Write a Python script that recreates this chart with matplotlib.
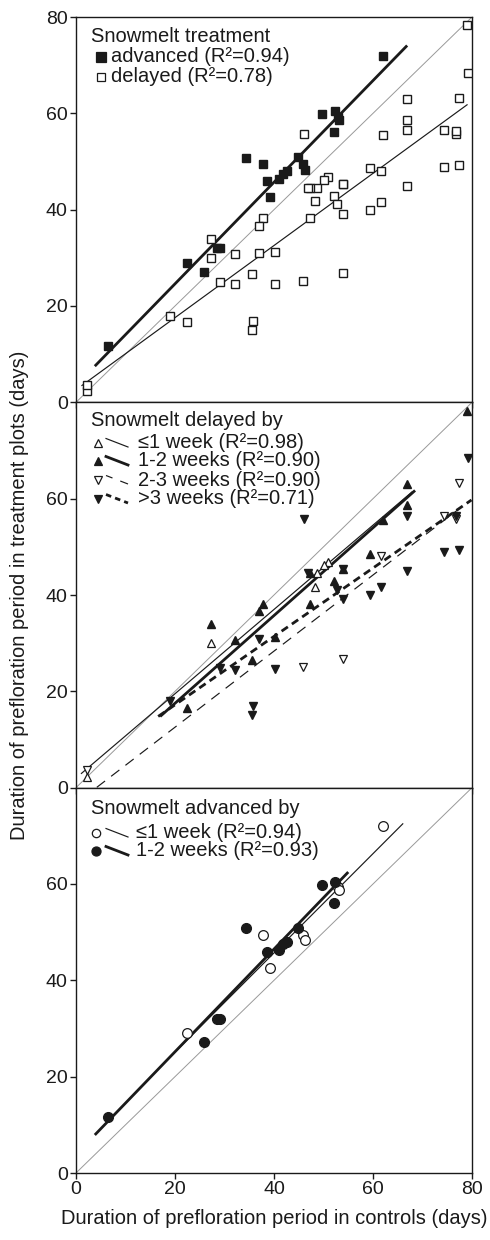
import matplotlib
matplotlib.use("Agg")
import matplotlib.pyplot as plt
import numpy as np
from matplotlib.lines import Line2D

plt.rcParams['font.family'] = ['Liberation Sans', 'DejaVu Sans']
plt.rcParams['lines.scale_dashes'] = False

# ---------------- data ----------------
# Snowmelt advanced, split by amount
adv_le1_x = [62.1, 52.9, 53.1, 37.8, 45.9, 46.3, 39.1, 22.4]
adv_le1_y = [72.0, 59.3, 58.7, 49.4, 49.4, 48.3, 42.6, 29.0]
adv_12_x = [49.6, 52.3, 52.2, 34.3, 44.9, 42.6, 41.9, 41.1, 38.6, 28.4, 29.1, 25.9, 6.4]
adv_12_y = [59.8, 60.4, 56.1, 50.8, 50.9, 48.0, 47.5, 46.3, 45.9, 32.0, 32.0, 27.1, 11.7]

# Snowmelt delayed, split by amount
del_le1_x = [51.0, 50.0, 48.6, 48.3, 27.2, 2.3]
del_le1_y = [46.8, 46.2, 44.6, 41.7, 30.0, 2.3]
del_12_x = [79.0, 66.8, 66.8, 62.1, 59.4, 53.9, 47.3, 52.2, 37.8, 37.0, 47.3, 27.2, 32.1, 40.2, 35.6, 22.5]
del_12_y = [78.3, 63.0, 58.6, 55.6, 48.6, 45.3, 44.6, 42.9, 38.2, 36.7, 38.2, 34.0, 30.7, 31.3, 26.6, 16.6]
del_23_x = [77.3, 74.3, 76.7, 61.6, 45.8, 54.0, 2.3]
del_23_y = [63.2, 56.5, 55.7, 48.0, 25.1, 26.8, 3.6]
del_3_x = [79.1, 66.9, 46.0, 76.8, 74.3, 77.3, 66.8, 53.9, 46.8, 52.7, 61.6, 59.4, 54.0, 37.0, 29.0, 32.1, 40.2, 19.0, 35.8, 35.6]
del_3_y = [68.4, 56.5, 55.8, 56.4, 48.9, 49.3, 45.0, 45.3, 44.6, 41.1, 41.6, 39.9, 39.1, 30.9, 24.9, 24.5, 24.6, 17.9, 16.9, 15.1]

# regression lines: slope, intercept, x start, x end
fit_adv = [1.055, 3.5, 3.8, 66.9]
fit_del = [0.749, 2.6, 1.1, 79.1]
fit_del_le1 = [0.875, 2.0, 1.0, 68.0]
fit_del_12 = [0.911, -0.7, 17.0, 68.5]
fit_del_23 = [0.790, -3.25, 4.2, 77.2]
fit_del_3 = [0.710, 3.0, 16.6, 79.9]
fit_adv_le1 = [1.030, 4.5, 19.0, 66.1]
fit_adv_12 = [1.066, 3.85, 3.8, 55.0]

title1 = "Snowmelt treatment"
labels1 = ["advanced (R\u00b2=0.94)", "delayed (R\u00b2=0.78)"]
title2 = "Snowmelt delayed by"
labels2 = ["\u22641 week (R\u00b2=0.98)", "1-2 weeks (R\u00b2=0.90)",
           "2-3 weeks (R\u00b2=0.90)", ">3 weeks (R\u00b2=0.71)"]
title3 = "Snowmelt advanced by"
labels3 = ["\u22641 week (R\u00b2=0.94)", "1-2 weeks (R\u00b2=0.93)"]

xticks = [0, 20, 40, 60, 80]
yticks_top = [0, 20, 40, 60, 80]
yticks_low = [0, 20, 40, 60]
xlabel = "Duration of prefloration period in controls (days)"
ylabel = "Duration of prefloration period in treatment plots (days)"

# ---------------- figure ----------------
W, H = 490, 1240
fig = plt.figure(figsize=(W / 100, H / 100), dpi=100)
left = 76 / W
width = 396 / W
top_px, bot_px = 17, 1173
ph = (bot_px - top_px) / 3
axes = []
for i in range(3):
    b = 1 - (top_px + ph * (i + 1)) / H
    ax = fig.add_axes([left, b, width, ph / H])
    axes.append(ax)

BLACK = '#1a1a1a'
FS = 14.5
THIN = 0.85
THICK = 2.0
DASH_THIN = (0, (7.5, 5.5))
DASH_THICK = (0, (5.5, 3.5))


def style(ax, yt):
    ax.set_xlim(0, 80)
    ax.set_ylim(0, 80)
    ax.set_xticks(xticks)
    ax.set_yticks(yt)
    for s in ax.spines.values():
        s.set_linewidth(1.0)
        s.set_color(BLACK)
    ax.tick_params(direction='out', length=4, width=1.0, labelsize=14,
                   color=BLACK, labelcolor=BLACK, pad=2)
    ax.plot([0, 80], [0, 80], color='#999999', lw=0.7, zorder=1)


def fitline(ax, f, **kw):
    xs = np.array([f[2], f[3]])
    ax.plot(xs, f[0] * xs + f[1], color=BLACK, zorder=2, solid_capstyle='butt', **kw)


ms = 6.3
# Panel 1
ax = axes[0]
style(ax, yticks_top)
ax.tick_params(labelbottom=False)
ax.plot(adv_le1_x + adv_12_x, adv_le1_y + adv_12_y, ls='none', marker='s', ms=ms,
        mfc=BLACK, mec=BLACK, zorder=3)
ax.plot(del_le1_x + del_12_x + del_23_x + del_3_x, del_le1_y + del_12_y + del_23_y + del_3_y,
        ls='none', marker='s', ms=ms - 0.4, mfc='white', mec=BLACK, mew=1.0, zorder=3)
fitline(ax, fit_adv, lw=THICK)
fitline(ax, fit_del, lw=THIN)

# Panel 2
ax = axes[1]
style(ax, yticks_low)
ax.tick_params(labelbottom=False)
tms = 6.3
ax.plot(del_le1_x, del_le1_y, ls='none', marker='^', ms=tms, mfc='white', mec=BLACK, mew=0.9, zorder=3)
ax.plot(del_12_x, del_12_y, ls='none', marker='^', ms=tms, mfc=BLACK, mec=BLACK, zorder=3)
ax.plot(del_23_x, del_23_y, ls='none', marker='v', ms=tms, mfc='white', mec=BLACK, mew=0.9, zorder=3)
ax.plot(del_3_x, del_3_y, ls='none', marker='v', ms=tms, mfc=BLACK, mec=BLACK, zorder=3)
fitline(ax, fit_del_le1, lw=THIN)
fitline(ax, fit_del_12, lw=THICK)
fitline(ax, fit_del_23, lw=THIN, ls=DASH_THIN)
fitline(ax, fit_del_3, lw=THICK, ls=DASH_THICK)

# Panel 3
ax = axes[2]
style(ax, yticks_low)
cms = 7
ax.plot(adv_le1_x, adv_le1_y, ls='none', marker='o', ms=cms, mfc='white', mec=BLACK, mew=0.9, zorder=3)
ax.plot(adv_12_x, adv_12_y, ls='none', marker='o', ms=cms, mfc=BLACK, mec=BLACK, zorder=3)
fitline(ax, fit_adv_le1, lw=THIN)
fitline(ax, fit_adv_12, lw=THICK)
ax.set_xlabel(xlabel, fontsize=FS, labelpad=8, color=BLACK)

fig.text(20 / W, 1 - ((top_px + bot_px) / 2) / H, ylabel, rotation=90,
         ha='center', va='center', fontsize=FS, color=BLACK)


# ---------------- manual legends ----------------
def ax_y(ax_index, py):
    t = top_px + ph * ax_index
    return 1 - (py - t) / ph


def ax_x(px):
    return (px - left * W) / (width * W)


def legend(ax_index, title, title_py, rows):
    ax = axes[ax_index]
    ax.text(ax_x(91), ax_y(ax_index, title_py), title, transform=ax.transAxes,
            ha='left', va='center', fontsize=FS, color=BLACK)
    for r in rows:
        py = r['py']
        ax.plot([ax_x(r['mx'])], [ax_y(ax_index, py)], transform=ax.transAxes, ls='none',
                marker=r['marker'], ms=r.get('ms', 6), mfc=r['mfc'], mec=BLACK,
                mew=0.9, clip_on=False)
        if 'line' in r:
            ax.add_line(Line2D([ax_x(106), ax_x(128)], [ax_y(ax_index, py - 4.5), ax_y(ax_index, py + 4)],
                               transform=ax.transAxes, color=BLACK, **r['line']))
        ax.text(ax_x(r['tx']), ax_y(ax_index, py), r['label'], transform=ax.transAxes,
                ha='left', va='center', fontsize=FS, color=BLACK)


legend(0, title1, 37, [
    dict(py=57, mx=101, marker='s', mfc=BLACK, label=labels1[0], tx=111, ms=6.5),
    dict(py=77, mx=101, marker='s', mfc='white', label=labels1[1], tx=111, ms=6),
])
legend(1, title2, 420, [
    dict(py=443, mx=98, marker='^', mfc='white', label=labels2[0], tx=138, ms=5.5,
         line=dict(lw=THIN)),
    dict(py=461, mx=98, marker='^', mfc=BLACK, label=labels2[1], tx=138, ms=6,
         line=dict(lw=THICK)),
    dict(py=480, mx=98, marker='v', mfc='white', label=labels2[2], tx=138, ms=5.5,
         line=dict(lw=THIN, ls=(1, (6, 6)))),
    dict(py=499, mx=98, marker='v', mfc=BLACK, label=labels2[3], tx=138, ms=6,
         line=dict(lw=THICK, ls=(0, (4, 3)))),
])
legend(2, title3, 808, [
    dict(py=833, mx=96, marker='o', mfc='white', label=labels3[0], tx=136, ms=6,
         line=dict(lw=THIN)),
    dict(py=851, mx=96, marker='o', mfc=BLACK, label=labels3[1], tx=136, ms=6.5,
         line=dict(lw=THICK)),
])

fig.savefig('out.png', dpi=100)
